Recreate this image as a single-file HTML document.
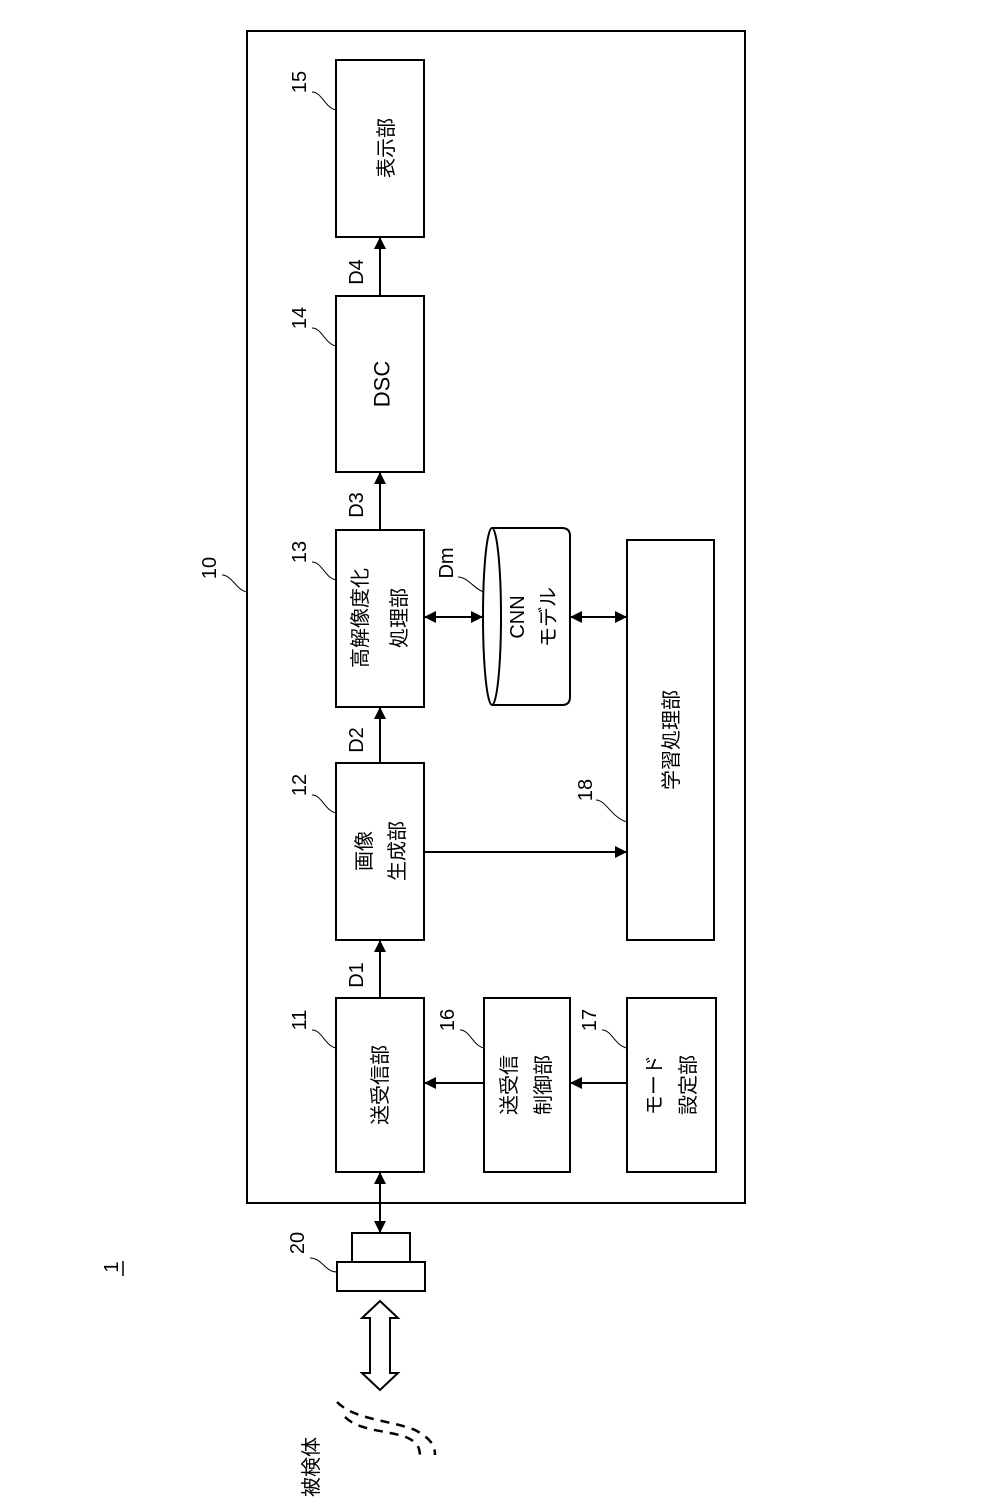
<!DOCTYPE html>
<html><head><meta charset="utf-8"><style>
html,body{margin:0;padding:0;background:#fff;}
svg{display:block;}
text{font-family:"Liberation Sans","Noto Sans CJK JP",sans-serif;fill:#000;}
</style></head><body>
<svg width="1008" height="1512" viewBox="0 0 1008 1512" xmlns="http://www.w3.org/2000/svg">
<defs>
<marker id="a" markerWidth="12" markerHeight="12" refX="11" refY="6" orient="auto" markerUnits="userSpaceOnUse"><path d="M0,0 L12,6 L0,12 z" fill="#000"/></marker>
<marker id="as" markerWidth="12" markerHeight="12" refX="1" refY="6" orient="auto" markerUnits="userSpaceOnUse"><path d="M12,0 L0,6 L12,12 z" fill="#000"/></marker>
</defs>
<g fill="none" stroke="#000" stroke-width="2">
<rect x="247" y="31" width="498" height="1172"/>
<rect x="336" y="60" width="88" height="177"/>
<rect x="336" y="296" width="88" height="176"/>
<rect x="336" y="530" width="88" height="177"/>
<rect x="336" y="763" width="88" height="177"/>
<rect x="336" y="998" width="88" height="174"/>
<rect x="484" y="998" width="86" height="174"/>
<rect x="627" y="998" width="89" height="174"/>
<rect x="627" y="540" width="87" height="400"/>
<path d="M492,528 L562,528 Q570,528 570,536 L570,697 Q570,705 562,705 L492,705"/>
<ellipse cx="492" cy="616.5" rx="9" ry="88.5"/>
<rect x="352" y="1233" width="58" height="29"/>
<rect x="337" y="1262" width="88" height="29"/>
<path d="M380,1301 L398,1318 L390,1318 L390,1373 L398,1373 L380,1390 L362,1373 L370,1373 L370,1318 L362,1318 z"/>
</g>
<g stroke="#000" stroke-width="2" fill="none">
<line x1="380" y1="998" x2="380" y2="941" marker-end="url(#a)"/>
<line x1="380" y1="763" x2="380" y2="708" marker-end="url(#a)"/>
<line x1="380" y1="530" x2="380" y2="473" marker-end="url(#a)"/>
<line x1="380" y1="296" x2="380" y2="238" marker-end="url(#a)"/>
<line x1="484" y1="1083" x2="425" y2="1083" marker-end="url(#a)"/>
<line x1="627" y1="1083" x2="571" y2="1083" marker-end="url(#a)"/>
<line x1="424" y1="852" x2="626" y2="852" marker-end="url(#a)"/>
<line x1="425" y1="617" x2="482" y2="617" marker-start="url(#as)" marker-end="url(#a)"/>
<line x1="571" y1="617" x2="626" y2="617" marker-start="url(#as)" marker-end="url(#a)"/>
<line x1="380" y1="1173" x2="380" y2="1232" marker-start="url(#as)" marker-end="url(#a)"/>
</g>
<g stroke="#000" stroke-width="1" fill="none">
<path d="M312,92 C322,92 325,108 336,110"/>
<path d="M312,328 C322,328 325,344 336,346"/>
<path d="M312,562 C322,562 325,578 336,580"/>
<path d="M312,795 C322,795 325,811 336,813"/>
<path d="M312,1030 C322,1030 325,1046 336,1048"/>
<path d="M460,1030 C470,1030 473,1046 484,1048"/>
<path d="M602,1030 C612,1030 615,1046 627,1048"/>
<path d="M596,800 C606,800 612,818 627,822"/>
<path d="M458,577 C468,577 475,590 484,592"/>
<path d="M222,575 C232,575 236,590 247,592"/>
<path d="M310,1258 C322,1258 325,1272 337,1272"/>
</g>
<line x1="123" y1="1261" x2="123" y2="1276" stroke="#000" stroke-width="1.5"/>
<g stroke="#000" stroke-width="2.5" fill="none" stroke-dasharray="9,7">
<path d="M337,1402 C355,1420 390,1420 415,1430 C430,1438 435,1445 435,1455"/>
<path d="M345,1417 C360,1432 390,1430 408,1438 C420,1444 420,1450 420,1460"/>
</g>
<g font-size="20">
<text transform="translate(112,1267) rotate(-90)" text-anchor="middle" dominant-baseline="central">1</text>
<text transform="translate(387,148) rotate(-90)" text-anchor="middle" dominant-baseline="central">表示部</text>
<text transform="translate(382,384) rotate(-90)" text-anchor="middle" dominant-baseline="central" font-size="22">DSC</text>
<text transform="translate(361,618) rotate(-90)" text-anchor="middle" dominant-baseline="central">高解像度化</text>
<text transform="translate(400,618) rotate(-90)" text-anchor="middle" dominant-baseline="central">処理部</text>
<text transform="translate(365,851) rotate(-90)" text-anchor="middle" dominant-baseline="central">画像</text>
<text transform="translate(398,851) rotate(-90)" text-anchor="middle" dominant-baseline="central">生成部</text>
<text transform="translate(381,1085) rotate(-90)" text-anchor="middle" dominant-baseline="central">送受信部</text>
<text transform="translate(510,1085) rotate(-90)" text-anchor="middle" dominant-baseline="central">送受信</text>
<text transform="translate(544,1085) rotate(-90)" text-anchor="middle" dominant-baseline="central">制御部</text>
<text transform="translate(655,1085) rotate(-90)" text-anchor="middle" dominant-baseline="central">モード</text>
<text transform="translate(689,1085) rotate(-90)" text-anchor="middle" dominant-baseline="central">設定部</text>
<text transform="translate(672,740) rotate(-90)" text-anchor="middle" dominant-baseline="central">学習処理部</text>
<text transform="translate(518,617) rotate(-90)" text-anchor="middle" dominant-baseline="central">CNN</text>
<text transform="translate(549,617) rotate(-90)" text-anchor="middle" dominant-baseline="central">モデル</text>
<text transform="translate(357,975) rotate(-90)" text-anchor="middle" dominant-baseline="central">D1</text>
<text transform="translate(357,740) rotate(-90)" text-anchor="middle" dominant-baseline="central">D2</text>
<text transform="translate(357,505) rotate(-90)" text-anchor="middle" dominant-baseline="central">D3</text>
<text transform="translate(357,272) rotate(-90)" text-anchor="middle" dominant-baseline="central">D4</text>
<text transform="translate(447,563) rotate(-90)" text-anchor="middle" dominant-baseline="central">Dm</text>
<text transform="translate(300,82) rotate(-90)" text-anchor="middle" dominant-baseline="central">15</text>
<text transform="translate(300,318) rotate(-90)" text-anchor="middle" dominant-baseline="central">14</text>
<text transform="translate(300,552) rotate(-90)" text-anchor="middle" dominant-baseline="central">13</text>
<text transform="translate(300,785) rotate(-90)" text-anchor="middle" dominant-baseline="central">12</text>
<text transform="translate(300,1020) rotate(-90)" text-anchor="middle" dominant-baseline="central">11</text>
<text transform="translate(448,1020) rotate(-90)" text-anchor="middle" dominant-baseline="central">16</text>
<text transform="translate(590,1020) rotate(-90)" text-anchor="middle" dominant-baseline="central">17</text>
<text transform="translate(586,790) rotate(-90)" text-anchor="middle" dominant-baseline="central">18</text>
<text transform="translate(210,568) rotate(-90)" text-anchor="middle" dominant-baseline="central">10</text>
<text transform="translate(298,1243) rotate(-90)" text-anchor="middle" dominant-baseline="central">20</text>
<text transform="translate(312,1467) rotate(-90)" text-anchor="middle" dominant-baseline="central">被検体</text>
</g>
</svg>
</body></html>
